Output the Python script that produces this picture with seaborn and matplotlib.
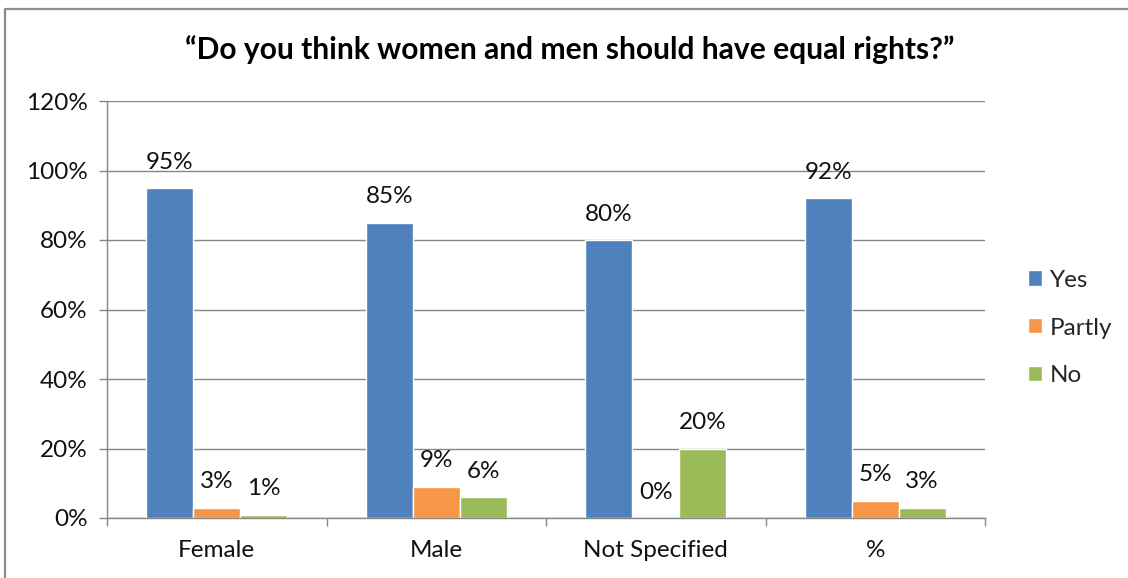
import matplotlib
matplotlib.use("Agg")
import matplotlib.pyplot as plt
from matplotlib.lines import Line2D
from matplotlib.ticker import FixedLocator, PercentFormatter
import pandas as pd
import seaborn as sns

# Survey answers by respondent group (percent)
groups = ["Female", "Male", "Not Specified", "%"]
answers = ["Yes", "Partly", "No"]
yes_vals = [95, 85, 80, 92]
partly_vals = [3, 9, 0, 5]
no_vals = [1, 6, 20, 3]
colors = ["#4F81BD", "#F79646", "#9BBB59"]
title = "\u201cDo you think women and men should have equal rights?\u201d"

df = pd.DataFrame({
    "group": groups * 3,
    "answer": [a for a in answers for _ in groups],
    "value": yes_vals + partly_vals + no_vals,
})

sns.set_theme(style="white")
plt.rcParams["font.family"] = ["Lato", "DejaVu Sans"]

FS = 17.5
W, H = 1128, 578
fig = plt.figure(figsize=(W / 100, H / 100), dpi=100)
ax = fig.add_axes([107 / W, 1 - 518 / H, (985 - 107) / W, (518 - 101) / H])

sns.barplot(data=df, x="group", y="value", hue="answer", order=groups,
            hue_order=answers, palette=colors, width=0.642, saturation=1,
            ax=ax, legend=True)

for cont in ax.containers:
    ax.bar_label(cont, fmt="{:.0f}%", padding=11, fontsize=FS, color="#111111")

grid_c = "#868686"
ax.set_ylim(0, 120)
ax.set_xlim(-0.5, len(groups) - 0.5)
ax.yaxis.set_major_locator(FixedLocator(range(0, 121, 20)))
ax.yaxis.set_major_formatter(PercentFormatter(decimals=0))
ax.yaxis.grid(True, color=grid_c, linewidth=1.0)
ax.set_axisbelow(True)
ax.set_xlabel("")
ax.set_ylabel("")

for side in ["top", "right"]:
    ax.spines[side].set_visible(False)
for side in ["left", "bottom"]:
    ax.spines[side].set_color(grid_c)
    ax.spines[side].set_linewidth(1.0)

ax.tick_params(axis="y", left=True, length=6, width=1.0, color=grid_c,
               pad=8, labelsize=FS, labelcolor="#111111")
ax.tick_params(axis="x", which="major", length=0, pad=16, labelsize=FS,
               labelcolor="#111111")
ax.set_xticks([i - 0.5 for i in range(len(groups) + 1)], minor=True)
ax.tick_params(axis="x", which="minor", bottom=True, length=6, width=1.0,
               color=grid_c)

handles, labels = ax.get_legend_handles_labels()
ax.get_legend().remove()
fig.legend(handles, labels, loc="center left",
           bbox_to_anchor=(1028 / W, 1 - 328 / H), frameon=False,
           fontsize=FS, handlelength=0.58, handleheight=0.58,
           handletextpad=0.33, labelspacing=1.11, borderpad=0,
           borderaxespad=0)

fig.text(570 / W, 1 - 50 / H, title, ha="center", va="center",
         fontsize=21.6, fontweight="bold", color="#000000")

# Chart area frame (top and left edges)
border = "#8c8c8c"
fig.add_artist(Line2D([5 / W, 5 / W, 1.0], [0.0, 1 - 8.5 / H, 1 - 8.5 / H],
                      transform=fig.transFigure, color=border, linewidth=1.6))

fig.savefig("out.png", dpi=100, facecolor="white")
